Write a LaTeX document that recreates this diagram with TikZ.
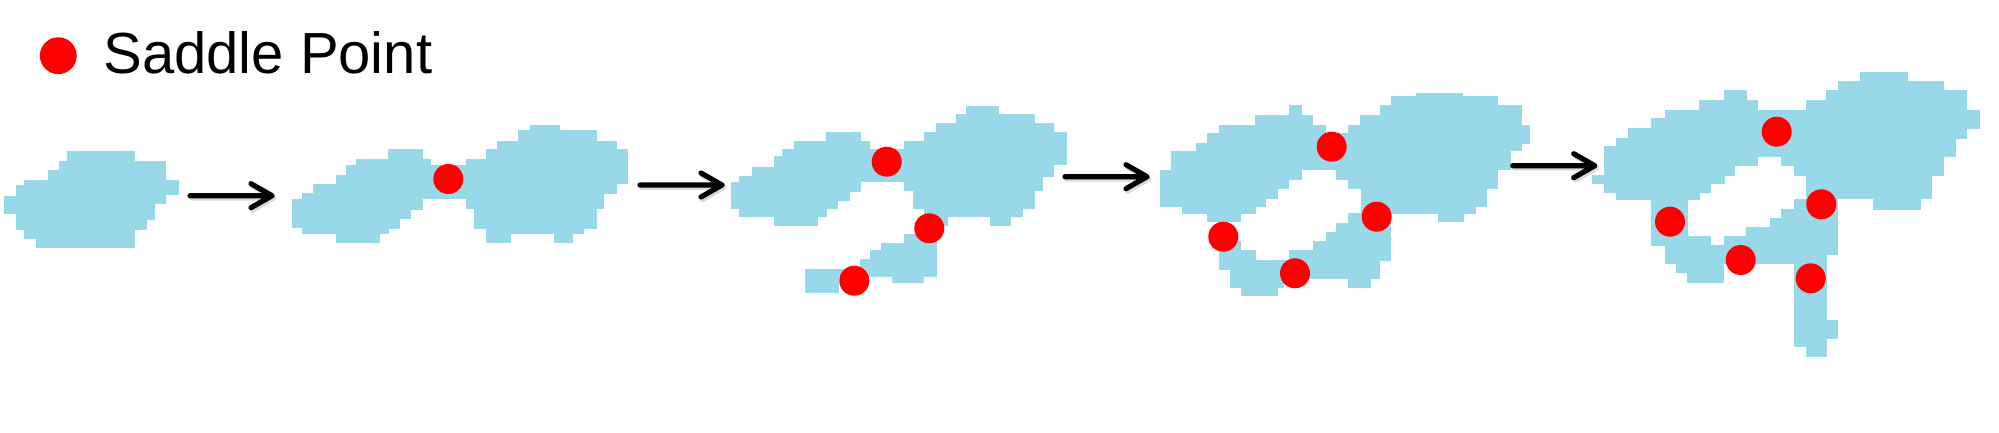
\documentclass[tikz,border=0pt]{standalone}
\usepackage{fontspec}
\setmainfont{Liberation Sans}
\definecolor{blobblue}{RGB}{153,216,233}

\begin{document}
\begin{tikzpicture}[x=0.5pt, y=-0.5pt,
    blob/.style={fill=blobblue, draw=blobblue, line width=0.3pt},
    saddle/.style={fill=red},
    evolve/.style={line width=2.6pt, black, line cap=round, line join=round},
    evolveshadow/.style={evolve, black!25, opacity=0.6, transform canvas={shift={(0.8pt,-1.2pt)}}}]
    \useasboundingbox (0,0) rectangle (1999,433);

    % legend
    \fill[saddle] (58.3,55.7) circle (9.2pt);
    \node[anchor=west, inner sep=0pt, font=\fontsize{29}{34}\selectfont] (legend) at (103,53) {Saddle Point};

    % stage 1
    \foreach \ya/\yb/\xa/\xb in {151/161/67/134, 161/170/59/165, 170/180/48/165, 180/185/24/178,
        185/194/16/178, 194/196/16/165, 196/203/4/165, 203/213/4/154, 213/219/16/154,
        219/229/16/146, 229/238/24/134, 238/247/36/134}
        \fill[blob] (\xa,\ya) rectangle (\xb,\yb);

    % stage 2
    \foreach \ya/\yb/\xa/\xb in {149.3/159.3/388.3/422.7, 159.3/165/356.7/430.7, 165/175.7/346/470,
        175.7/184/336.7/470, 184/193.3/313.3/470, 193.3/198.3/302.3/470, 198.3/199.3/302.3/422.7,
        199.3/209.3/292.7/422.7, 209.3/218.3/292.7/410.7, 218.3/227.3/292.7/399,
        227.3/228.3/302.3/399, 228.3/233.3/302.3/388.3, 233.3/242.7/336.7/379.3,
        125/130.7/530/559.3, 130.7/141.7/518.3/596, 141.7/149.3/497.7/616.7,
        149.3/159.3/486.7/627.3, 159.3/183.3/466.7/627.3, 183.3/193.3/466.7/616.7,
        193.3/208.3/466.7/603.3, 208.3/228.3/474/596, 228.3/233.3/486.7/583.3,
        233.3/242.7/486.7/510, 233.3/242.7/554/572.7}
        \fill[blob] (\xa,\ya) rectangle (\xb,\yb);
    \fill[saddle] (448.3,179) circle (7.5pt);

    % stage 3
    \foreach \ya/\yb/\xa/\xb in {132.3/141.7/826/860, 141.7/149/794/869, 149/156.7/782.7/906,
        156.7/167.3/774.3/906, 167.3/176/752.3/906, 176/181.7/739/906, 181.7/182.7/739/860,
        182.7/191.7/731.7/860, 191.7/200/731.7/849, 200/208.3/731.7/837.7,
        208.3/216/739/826, 216/225/774.3/817.3,
        106.7/114/966.7/998.3, 114/123.3/956/1034, 123.3/132.3/936.7/1053.3,
        132.3/141.7/924/1066.7, 141.7/164/904/1066.7, 164/176/904/1053.3,
        176/190/904/1042.7, 190/208.3/913.3/1034, 208.3/216/924/1022.7,
        216/225/924/947.7, 216/225/990.7/1010,
        234/243.3/904/936, 243.3/250.7/881.7/936, 250.7/259.3/870/936,
        259.3/269.3/860/936, 269.3/276/805.7/936, 276/282.7/805.7/838.3,
        276/282.7/892.7/923.3, 282.7/292.7/805.7/838.3}
        \fill[blob] (\xa,\ya) rectangle (\xb,\yb);
    \foreach \px/\py in {886.7/161.7, 929.3/228.3, 854.3/280.7}
        \fill[saddle] (\px,\py) circle (7.5pt);

    % stage 4
    \foreach \ya/\yb/\xa/\xb in {105.7/115/1289.3/1301.7, 115/125/1255/1312.7, 125/133.3/1219.3/1325,
        133.3/143.3/1207.3/1350, 143.3/151.7/1196/1350, 151.7/169.3/1171.7/1350,
        169.3/170/1171.7/1301.7, 170/179.3/1160/1301.7, 179.3/188.3/1160/1288.3,
        188.3/198.3/1160/1277.3, 198.3/206/1160/1265.7, 206/206.7/1182.7/1265.7,
        206.7/213.3/1182.7/1255, 213.3/221.7/1207.3/1240.7,
        93.3/96.7/1416/1462.7, 96.7/105.7/1391.7/1497.3, 105.7/115/1380/1521.7,
        115/125/1360.7/1521.7, 125/143.3/1348.3/1529.3, 143.3/150.7/1348.3/1521.7,
        150.7/169.3/1348.3/1510, 169.3/179.3/1336.7/1497.3, 179.3/188.3/1348.3/1497.3,
        188.3/206.7/1361.7/1486, 206.7/213.3/1361.7/1475,
        213.3/221.7/1361.7/1390.7, 213.3/221.7/1438.3/1463.3,
        213.3/223.3/1348.3/1390.7, 223.3/232.7/1336.7/1390.7, 232.7/241.7/1326/1390.7,
        241.7/250.7/1219.3/1240.7, 241.7/250.7/1313.3/1390.7,
        250.7/260/1219.3/1255, 250.7/260/1289.3/1390.7,
        260/269.3/1219.3/1379.3, 269.3/278.3/1230/1379.3,
        278.3/287.3/1230/1283.3, 278.3/287.3/1348.3/1370.7, 287.3/295/1241.7/1277.3}
        \fill[blob] (\xa,\ya) rectangle (\xb,\yb);
    \foreach \px/\py in {1331.7/146.7, 1376.7/216.7, 1223.3/236.7, 1295/273.3}
        \fill[saddle] (\px,\py) circle (7.5pt);

    % stage 5
    \foreach \ya/\yb/\xa/\xb in {72.7/81.7/1860/1907.3, 81.7/90.7/1838.3/1943.3,
        90.7/100/1724/1746, 90.7/100/1826/1966, 100/110/1699.3/1757.3, 100/110/1806/1966,
        110/118.3/1665/1979, 118.3/128.3/1651.7/1979, 128.3/138.3/1628.3/1966,
        138.3/146.7/1616.7/1955, 146.7/156/1604/1955, 156/156.7/1604/1943.3,
        156.7/165/1604/1757.3, 156.7/165/1781.7/1943.3,
        165/175/1604/1734, 165/175/1794/1943.3,
        175/183.3/1592.7/1724, 175/183.3/1806/1931.7,
        183.3/192.7/1604/1710, 183.3/192.7/1806/1931.7,
        192.7/198.3/1616.7/1699.3, 192.7/198.3/1806/1931.7,
        198.3/199.3/1616.7/1699.3, 198.3/199.3/1806/1837.3, 198.3/199.3/1873.3/1920,
        199.3/209.3/1651.7/1687.3, 199.3/209.3/1794/1837.3, 199.3/209.3/1873.3/1920,
        209.3/218.3/1651.7/1687.3, 209.3/218.3/1781.7/1837.3,
        218.3/227.3/1651.7/1687.3, 218.3/227.3/1770.7/1837.3,
        227.3/236/1651.7/1687.3, 227.3/236/1746.7/1837.3,
        236/245/1651.7/1710, 236/245/1724/1837.3,
        245/254/1665/1837.3, 254/263.3/1665/1826,
        263.3/272.7/1676.7/1723.3, 263.3/272.7/1794/1826,
        272.7/282.7/1687.3/1723.3, 272.7/282.7/1794/1826,
        282.7/320/1794/1826, 320/338.3/1794/1837.3, 338.3/346/1794/1826, 346/356/1806/1826}
        \fill[blob] (\xa,\ya) rectangle (\xb,\yb);
    \foreach \px/\py in {1776.7/131.7, 1821.3/204.3, 1670/221.7, 1740.7/260, 1810.7/278.3}
        \fill[saddle] (\px,\py) circle (7.5pt);

    % arrows between stages
    \coordinate (s1out) at (190,195.7);
    \coordinate (s2in) at (272,195.7);
    \coordinate (s2out) at (640,185);
    \coordinate (s3in) at (722,185);
    \coordinate (s3out) at (1065,176.7);
    \coordinate (s4in) at (1147,176.7);
    \coordinate (s4out) at (1512.7,165.7);
    \coordinate (s5in) at (1594.7,165.7);
    \foreach \a/\b in {s1out/s2in, s2out/s3in, s3out/s4in, s4out/s5in} {
        \draw[evolveshadow] (\a) -- (\b) ([shift={(-21,-12)}]\b) -- (\b) -- ([shift={(-21,12)}]\b);
        \draw[evolve] (\a) -- (\b) ([shift={(-21,-12)}]\b) -- (\b) -- ([shift={(-21,12)}]\b);
    }
\end{tikzpicture}
\end{document}
